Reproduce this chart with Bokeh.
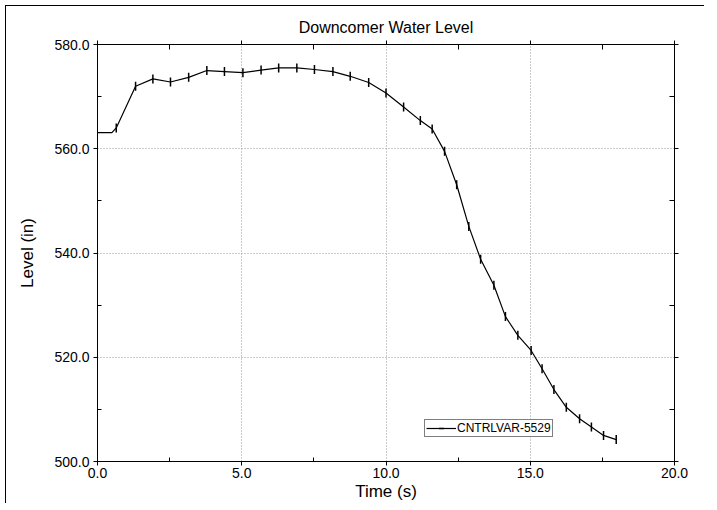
from bokeh.plotting import figure
from bokeh.models import LinearAxis, FixedTicker, PrintfTickFormatter, Range1d, Legend, CustomJSTickFormatter
from bokeh.embed import file_html
from bokeh.resources import INLINE

time_s = [0.0, 0.5, 0.65, 1.32, 1.92, 2.53, 3.16, 3.79, 4.40, 5.04, 5.67, 6.28, 6.91, 7.52,
          8.16, 8.76, 9.40, 10.0, 10.61, 11.19, 11.60, 12.03, 12.45, 12.87, 13.28, 13.74,
          14.14, 14.57, 15.03, 15.41, 15.82, 16.25, 16.71, 17.12, 17.54, 17.98]
level_in = [563.1, 563.1, 564.0, 572.0, 573.4, 572.8, 573.7, 575.0, 574.8, 574.6, 575.1,
            575.5, 575.5, 575.2, 574.8, 573.9, 572.7, 570.7, 568.0, 565.4, 563.8, 559.5,
            553.1, 545.1, 538.8, 533.8, 527.8, 524.2, 521.3, 517.8, 513.8, 510.4, 508.2,
            506.6, 505.0, 504.2]
x_ticks = [0, 5, 10, 15, 20]
x_minor = [2.5, 7.5, 12.5, 17.5]
y_ticks = [500, 520, 540, 560, 580]
y_minor = [510, 530, 550, 570]
series_name = "CNTRLVAR-5529"

FONT = "Liberation Sans"

p = figure(frame_width=577, frame_height=417, output_backend="svg", toolbar_location=None,
           x_range=Range1d(0, 20), y_range=Range1d(500, 580),
           min_border_left=91, min_border_right=30, min_border_top=38, min_border_bottom=38,
           title="Downcomer Water Level")
p.styles = {"border-left": "1px solid black", "border-top": "1px solid black",
            "margin-left": "5px", "margin-top": "5px"}
p.title.align = "center"
p.title.text_font = FONT
p.title.text_font_size = "16px"
p.title.text_font_style = "normal"
p.title.text_color = "black"
p.title.offset = 0
p.title.standoff = 10

p.outline_line_color = "black"
p.outline_line_width = 1

p.xaxis.ticker = FixedTicker(ticks=x_ticks, minor_ticks=x_minor)
p.yaxis.ticker = FixedTicker(ticks=y_ticks, minor_ticks=y_minor)
p.xaxis.formatter = PrintfTickFormatter(format="%.1f")
p.yaxis.formatter = PrintfTickFormatter(format="%.1f")
p.xaxis.axis_label = "Time (s)"
p.yaxis.axis_label = "Level (in)"
for ax in (p.xaxis[0], p.yaxis[0]):
    ax.axis_label_text_font = FONT
    ax.axis_label_text_font_size = "17px"
    ax.axis_label_text_font_style = "normal"
    ax.axis_label_text_color = "black"
    ax.major_label_text_font = FONT
    ax.major_label_text_font_size = "14px"
    ax.major_label_text_color = "black"
    ax.axis_line_color = "black"
    ax.major_tick_line_color = "black"
    ax.minor_tick_line_color = "black"
    ax.major_tick_in = 0
    ax.major_tick_out = 4
    ax.minor_tick_in = 4
    ax.minor_tick_out = 0
p.xaxis.axis_label_standoff = 1
p.xaxis.major_label_standoff = 2
p.yaxis.axis_label_standoff = 14
p.yaxis.major_label_standoff = 4

blank = CustomJSTickFormatter(code="return ''")
top_ax = LinearAxis(ticker=FixedTicker(ticks=x_ticks, minor_ticks=x_minor), formatter=blank,
                    axis_line_color="black",
                    major_tick_in=0, major_tick_out=4, minor_tick_in=5, minor_tick_out=0)
right_ax = LinearAxis(ticker=FixedTicker(ticks=y_ticks, minor_ticks=y_minor), formatter=blank,
                      axis_line_color="black",
                      major_tick_in=0, major_tick_out=4, minor_tick_in=5, minor_tick_out=0)
p.add_layout(top_ax, "above")
p.add_layout(right_ax, "right")

p.xgrid.grid_line_color = "#999999"
p.ygrid.grid_line_color = "#999999"
p.xgrid.grid_line_dash = "1 2"
p.ygrid.grid_line_dash = "1 2"
p.xgrid.ticker = FixedTicker(ticks=x_ticks)
p.ygrid.ticker = FixedTicker(ticks=y_ticks)

ln = p.line(time_s, level_in, line_color="black", line_width=1.2)
mk = p.scatter(time_s[2:], level_in[2:], marker="dash", angle=1.5708, size=9,
               line_color="black", line_width=1.5)

legend = Legend(items=[(series_name, [ln, mk])], location=(327, 24))
legend.border_line_color = "black"
legend.border_line_width = 1
legend.padding = 1
legend.margin = 0
legend.spacing = 0
legend.glyph_width = 30
legend.glyph_height = 12
legend.label_height = 12
legend.label_standoff = 1
legend.label_text_font = FONT
legend.label_text_font_size = "12px"
legend.label_text_color = "black"
legend.background_fill_alpha = 1
p.add_layout(legend, "center")

open("out.html", "w").write(file_html(p, INLINE))
